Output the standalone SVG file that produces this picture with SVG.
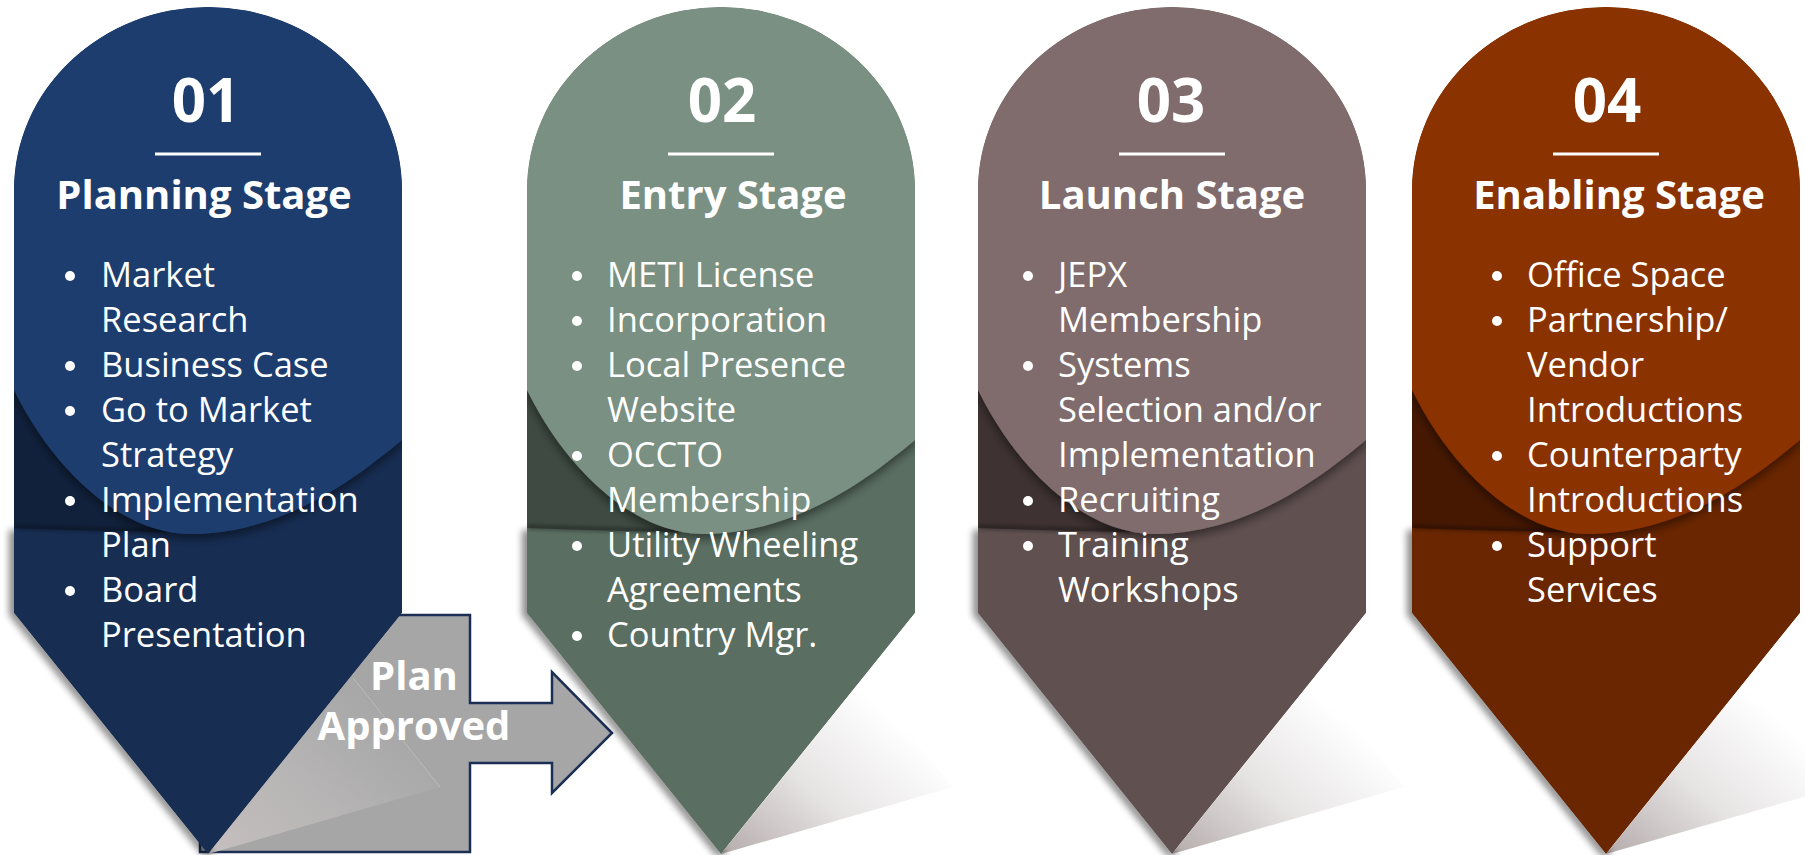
<svg xmlns="http://www.w3.org/2000/svg" width="1805" height="855" viewBox="0 0 1805 855">
<style>
.num{font-family:"Open Sans","Liberation Sans",sans-serif;font-weight:700;font-size:60px;fill:#fff;text-anchor:middle}
.ttl{font-family:"Open Sans","Liberation Sans",sans-serif;font-weight:700;font-size:40px;fill:#fff;text-anchor:middle}
.itm{font-family:"Open Sans","Liberation Sans",sans-serif;font-weight:400;font-size:34.5px;fill:#fff}
.lbl{font-family:"Open Sans","Liberation Sans",sans-serif;font-weight:700;font-size:40px;fill:#fff;text-anchor:middle}
.dot{fill:#fff}
.ul{stroke:#fff;stroke-width:3}
.psh{fill:#000;opacity:0.45}
.edge{fill:none;stroke:#000;stroke-opacity:0.5;stroke-width:3}
.b1m{fill:#172d52}.b1d{fill:#11213c}.b1l{fill:#1f3e6e}
.b2m{fill:#5a6e61}.b2d{fill:#3e4a42}.b2l{fill:#7a9082}
.b3m{fill:#605050}.b3d{fill:#3e3232}.b3l{fill:#806c6c}
.b4m{fill:#6a2600}.b4d{fill:#461802}.b4l{fill:#8a3000}
</style>
<defs>
<clipPath id="pin" clipPathUnits="userSpaceOnUse">
<path d="M-194,190 A194,183 0 0 1 194,190 L194,613 L0,854 L-194,613 Z"/>
</clipPath>
<path id="outline" d="M-194,190 A194,183 0 0 1 194,190 L194,613 L0,854 L-194,613 Z"/>
<path id="light" d="M-194,0 L-194,390 C-154,472 -84,536 -14,534 C76,532 146,480 194,440 L194,0 Z"/>
<path id="wedge" d="M-194,300 L-194,528 Q-110,531 -40,532 L-40,300 Z"/>
<path id="pshadow" d="M-194,528 L-194,613 L0,854 L12,854 L-182,613 L-182,528 Z"/>
<path id="ptop" d="M-194,527 Q-110,530 -40,531"/>
<polygon id="tri" points="0,854 142,678 232,787"/>
<filter id="ds" x="-30%" y="-30%" width="160%" height="170%">
<feGaussianBlur in="SourceAlpha" stdDeviation="5"/>
<feOffset dy="5" result="b"/>
<feFlood flood-color="#000" flood-opacity="0.45"/>
<feComposite in2="b" operator="in"/>
<feMerge><feMergeNode/><feMergeNode in="SourceGraphic"/></feMerge>
</filter>
<filter id="blur" x="-50%" y="-20%" width="200%" height="140%"><feGaussianBlur stdDeviation="3.5"/></filter>
<filter id="blur2" x="-20%" y="-200%" width="140%" height="500%"><feGaussianBlur stdDeviation="2"/></filter>
<linearGradient id="gw" x1="0" y1="1" x2="0.81" y2="0.31">
<stop offset="0" stop-color="#b5abab"/><stop offset="0.5" stop-color="#e6e3e3"/><stop offset="1" stop-color="#ffffff"/>
</linearGradient>
<linearGradient id="gg" x1="0" y1="1" x2="0.81" y2="0.31">
<stop offset="0" stop-color="#c6bfbf"/><stop offset="0.55" stop-color="#b6b4b4"/><stop offset="1" stop-color="#a8a8a8"/>
</linearGradient>
</defs>
<rect width="1805" height="855" fill="#fff"/>

<g id="connectors">
<polygon points="200,615 470,615 470,703 552,703 552,672 612,733 552,793 552,763 470,763 470,852 200,852" fill="#a6a6a6" stroke="#1b2f55" stroke-width="2.5" stroke-linejoin="miter"/>
<polygon points="208,854 350,678 440,787" fill="url(#gg)"/>
<line x1="353" y1="678" x2="440" y2="787" stroke="#c4c4c4" stroke-opacity="0.7" stroke-width="1"/>
<text class="lbl"><tspan x="414" y="690">Plan</tspan><tspan x="414" y="740">Approved</tspan></text>
</g>

<g id="stage-1" transform="translate(208,0)">
<use href="#pshadow" class="psh" transform="translate(-5,2)" filter="url(#blur)"/>
<g clip-path="url(#pin)">
<use href="#outline" class="b1m"/>
<use href="#wedge" class="b1d"/>
<use href="#ptop" class="edge" filter="url(#blur2)"/>
<use href="#light" class="b1l" filter="url(#ds)"/>
</g>
<text class="num" x="-2" y="122">01</text>
<line class="ul" x1="-53" y1="154" x2="53" y2="154"/>
<text class="ttl" x="-4" y="209">Planning Stage</text>
<g class="dot"><circle cx="-138" cy="276" r="5"/><circle cx="-138" cy="366" r="5"/><circle cx="-138" cy="411" r="5"/><circle cx="-138" cy="501" r="5"/><circle cx="-138" cy="591" r="5"/></g>
<text class="itm"><tspan x="-107" y="287">Market</tspan><tspan x="-107" y="332">Research</tspan><tspan x="-107" y="377">Business Case</tspan><tspan x="-107" y="422">Go to Market</tspan><tspan x="-107" y="467">Strategy</tspan><tspan x="-107" y="512">Implementation</tspan><tspan x="-107" y="557">Plan</tspan><tspan x="-107" y="602">Board</tspan><tspan x="-107" y="647">Presentation</tspan></text>
</g>

<g id="stage-2" transform="translate(721,0)">
<use href="#tri" fill="url(#gw)"/>
<use href="#pshadow" class="psh" transform="translate(-5,2)" filter="url(#blur)"/>
<g clip-path="url(#pin)">
<use href="#outline" class="b2m"/>
<use href="#wedge" class="b2d"/>
<use href="#ptop" class="edge" filter="url(#blur2)"/>
<use href="#light" class="b2l" filter="url(#ds)"/>
</g>
<text class="num" x="1" y="122">02</text>
<line class="ul" x1="-53" y1="154" x2="53" y2="154"/>
<text class="ttl" x="12" y="209">Entry Stage</text>
<g class="dot"><circle cx="-144" cy="276" r="5"/><circle cx="-144" cy="321" r="5"/><circle cx="-144" cy="366" r="5"/><circle cx="-144" cy="456" r="5"/><circle cx="-144" cy="546" r="5"/><circle cx="-144" cy="636" r="5"/></g>
<text class="itm"><tspan x="-114" y="287">METI License</tspan><tspan x="-114" y="332">Incorporation</tspan><tspan x="-114" y="377">Local Presence</tspan><tspan x="-114" y="422">Website</tspan><tspan x="-114" y="467">OCCTO</tspan><tspan x="-114" y="512">Membership</tspan><tspan x="-114" y="557">Utility Wheeling</tspan><tspan x="-114" y="602">Agreements</tspan><tspan x="-114" y="647">Country Mgr.</tspan></text>
</g>

<g id="stage-3" transform="translate(1172,0)">
<use href="#tri" fill="url(#gw)"/>
<use href="#pshadow" class="psh" transform="translate(-5,2)" filter="url(#blur)"/>
<g clip-path="url(#pin)">
<use href="#outline" class="b3m"/>
<use href="#wedge" class="b3d"/>
<use href="#ptop" class="edge" filter="url(#blur2)"/>
<use href="#light" class="b3l" filter="url(#ds)"/>
</g>
<text class="num" x="-1" y="122">03</text>
<line class="ul" x1="-53" y1="154" x2="53" y2="154"/>
<text class="ttl" x="0" y="209">Launch Stage</text>
<g class="dot"><circle cx="-144" cy="276" r="5"/><circle cx="-144" cy="366" r="5"/><circle cx="-144" cy="501" r="5"/><circle cx="-144" cy="546" r="5"/></g>
<text class="itm"><tspan x="-114" y="287">JEPX</tspan><tspan x="-114" y="332">Membership</tspan><tspan x="-114" y="377">Systems</tspan><tspan x="-114" y="422">Selection and/or</tspan><tspan x="-114" y="467">Implementation</tspan><tspan x="-114" y="512">Recruiting</tspan><tspan x="-114" y="557">Training</tspan><tspan x="-114" y="602">Workshops</tspan></text>
</g>

<g id="stage-4" transform="translate(1606,0)">
<use href="#tri" fill="url(#gw)"/>
<use href="#pshadow" class="psh" transform="translate(-5,2)" filter="url(#blur)"/>
<g clip-path="url(#pin)">
<use href="#outline" class="b4m"/>
<use href="#wedge" class="b4d"/>
<use href="#ptop" class="edge" filter="url(#blur2)"/>
<use href="#light" class="b4l" filter="url(#ds)"/>
</g>
<text class="num" x="1" y="122">04</text>
<line class="ul" x1="-53" y1="154" x2="53" y2="154"/>
<text class="ttl" x="13" y="209">Enabling Stage</text>
<g class="dot"><circle cx="-109" cy="276" r="5"/><circle cx="-109" cy="321" r="5"/><circle cx="-109" cy="456" r="5"/><circle cx="-109" cy="546" r="5"/></g>
<text class="itm"><tspan x="-79" y="287">Office Space</tspan><tspan x="-79" y="332">Partnership/</tspan><tspan x="-79" y="377">Vendor</tspan><tspan x="-79" y="422">Introductions</tspan><tspan x="-79" y="467">Counterparty</tspan><tspan x="-79" y="512">Introductions</tspan><tspan x="-79" y="557">Support</tspan><tspan x="-79" y="602">Services</tspan></text>
</g>
</svg>
